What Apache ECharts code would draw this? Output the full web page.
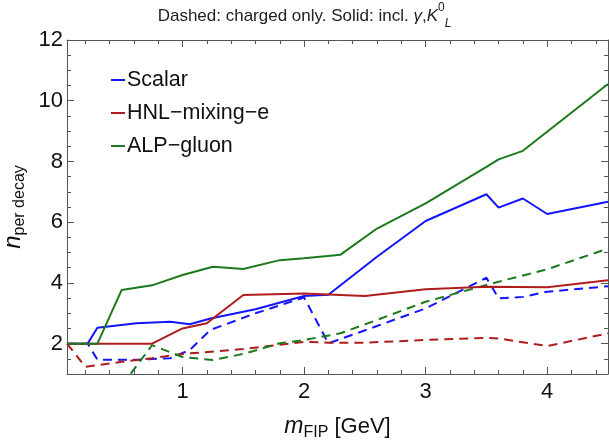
<!DOCTYPE html>
<html>
<head>
<meta charset="utf-8">
<script src="https://cdn.jsdelivr.net/npm/echarts@6/dist/echarts.min.js"></script>
<style>
  html, body { margin: 0; padding: 0; background: #fff; }
  #chart { width: 609px; height: 441px; }
</style>
</head>
<body>
<div id="chart"></div>
<script>
// [m, n] pairs
const scalarSolid = [[0.05, 2], [0.22, 2], [0.3, 2.52], [0.62, 2.67], [0.9, 2.72], [1.06, 2.64], [1.23, 2.83],
  [1.6, 3.13], [2.0, 3.57], [2.2, 3.61], [2.6, 4.86], [3.0, 6.04], [3.5, 6.92], [3.6, 6.48], [3.8, 6.78],
  [4.0, 6.27], [4.5, 6.67]];
const hnlSolid = [[0.05, 2], [0.75, 2], [1.0, 2.5], [1.2, 2.67], [1.5, 3.6], [2.0, 3.65], [2.2, 3.62],
  [2.5, 3.57], [3.0, 3.79], [3.5, 3.87], [4.0, 3.86], [4.5, 4.09]];
const alpSolid = [[0.05, 2], [0.3, 2], [0.5, 3.77], [0.75, 3.92], [1.0, 4.26], [1.25, 4.53], [1.5, 4.46],
  [1.8, 4.75], [2.0, 4.81], [2.3, 4.93], [2.6, 5.79], [3.0, 6.62], [3.5, 7.82], [3.6, 8.07], [3.8, 8.35],
  [4.5, 10.55]];
const scalarDashed = [[0.05, 2], [0.22, 2], [0.3, 1.47], [0.64, 1.47], [0.9, 1.52], [1.06, 1.79], [1.23, 2.45],
  [1.6, 3.0], [2.0, 3.52], [2.2, 2.01], [2.6, 2.58], [3.0, 3.16], [3.5, 4.17], [3.6, 3.49], [3.8, 3.54],
  [4.0, 3.71], [4.5, 3.89]];
const hnlDashed = [[0.05, 2.0], [0.2, 1.24], [0.5, 1.4], [0.75, 1.52], [1.0, 1.66], [1.5, 1.82], [2.0, 2.06],
  [2.2, 2.03], [2.5, 2.03], [3.0, 2.12], [3.5, 2.19], [3.6, 2.17], [4.0, 1.92], [4.5, 2.34]];
const alpDashed = [[0.5, 0.62], [0.75, 1.95], [1.0, 1.56], [1.25, 1.46], [1.5, 1.66], [1.8, 2.01], [2.0, 2.12],
  [2.3, 2.34], [2.6, 2.78], [3.0, 3.38], [3.5, 3.93], [3.6, 4.04], [4.0, 4.45], [4.5, 5.13]];

const xTicks = [1, 2, 3, 4];
const xMinor = [0.2, 0.4, 0.6, 0.8, 1.2, 1.4, 1.6, 1.8, 2.2, 2.4, 2.6, 2.8, 3.2, 3.4, 3.6, 3.8, 4.2, 4.4];
const yTicks = [2, 4, 6, 8, 10, 12];
const yMinor = [1.5, 2.5, 3, 3.5, 4.5, 5, 5.5, 6.5, 7, 7.5, 8.5, 9, 9.5, 10.5, 11, 11.5];

const FONT = "'Liberation Sans', Arial, sans-serif";
const FRAME = '#555';
const BLUE = '#1414ff', RED = '#b01c1c', GREEN = '#1c7a1c';

function axis(dim, pos, ticks, len, main, labels) {
  var a = {
    type: 'value',
    position: pos,
    min: dim == 'x' ? 0.05 : 1,
    max: dim == 'x' ? 4.5 : 12,
    splitLine: {show: false},
    axisLine: {show: main, onZero: false, lineStyle: {color: FRAME, width: 1}},
    axisTick: {show: true, inside: true, length: len, customValues: ticks, lineStyle: {color: FRAME, width: 1}},
    axisLabel: {show: !!labels}
  };
  if (labels) {
    a.axisLabel = {show: true, customValues: labels, fontSize: 22, fontFamily: FONT, color: '#111',
      margin: dim == 'x' ? 7 : 4};
  }
  return a;
}

const xAxes = [
  axis('x', 'bottom', xTicks, 7, true, xTicks),
  axis('x', 'bottom', xMinor, 4, false),
  axis('x', 'top', xTicks, 7, true),
  axis('x', 'top', xMinor, 4, false)
];
xAxes[0].name = '{i|m}{s|FIP}{a| [GeV]}';
xAxes[0].nameLocation = 'middle';
xAxes[0].nameGap = 39;
xAxes[0].nameTextStyle = {
  fontFamily: FONT, color: '#111',
  rich: {
    i: {fontSize: 23, fontStyle: 'italic', fontFamily: FONT, color: '#111', verticalAlign: 'middle', lineHeight: 28},
    s: {fontSize: 16, fontFamily: FONT, color: '#111', verticalAlign: 'bottom', lineHeight: 16},
    a: {fontSize: 22, fontFamily: FONT, color: '#111', verticalAlign: 'middle', lineHeight: 28}
  }
};

const yAxes = [
  axis('y', 'left', yTicks, 7, true, yTicks),
  axis('y', 'left', yMinor, 4, false),
  axis('y', 'right', yTicks, 7, true),
  axis('y', 'right', yMinor, 4, false)
];
yAxes[0].name = '{i|n}{s|per decay}';
yAxes[0].nameLocation = 'middle';
yAxes[0].nameRotate = 90;
yAxes[0].nameGap = 29;
yAxes[0].nameTextStyle = {
  fontFamily: FONT, color: '#111',
  rich: {
    i: {fontSize: 24, fontStyle: 'italic', fontFamily: FONT, color: '#111', verticalAlign: 'middle', lineHeight: 28},
    s: {fontSize: 16, fontFamily: FONT, color: '#111', verticalAlign: 'bottom', lineHeight: 16}
  }
};

function line(name, data, color, dashed) {
  return {
    name: name,
    type: 'line',
    data: data,
    symbol: 'none',
    color: color,
    lineStyle: {color: color, width: 2, type: dashed ? [9, 6] : 'solid'},
    clip: true,
    z: dashed ? 2 : 3
  };
}

const chart = echarts.init(document.getElementById('chart'), null, {renderer: 'canvas'});
chart.setOption({
  animation: false,
  backgroundColor: '#fff',
  title: {
    text: '{a|Dashed: charged only. Solid: incl. }{i|γ}{a|,}{i|K}{sup|0}{sub|L}',
    left: 'center',
    top: -3,
    textStyle: {
      fontWeight: 'normal',
      rich: {
        a: {fontSize: 17, fontFamily: FONT, fontWeight: 'normal', color: '#222', verticalAlign: 'middle', lineHeight: 28},
        i: {fontSize: 17, fontFamily: FONT, fontWeight: 'normal', fontStyle: 'italic', color: '#222', verticalAlign: 'middle', lineHeight: 28},
        sup: {fontSize: 12, fontFamily: FONT, fontWeight: 'normal', color: '#222', verticalAlign: 'top', lineHeight: 12},
        sub: {fontSize: 12, fontFamily: FONT, fontWeight: 'normal', fontStyle: 'italic', color: '#222', verticalAlign: 'bottom', lineHeight: 12}
      }
    }
  },
  legend: {
    data: ['Scalar', 'HNL−mixing−e', 'ALP−gluon'],
    orient: 'vertical',
    left: 106,
    top: 64,
    icon: 'rect',
    itemWidth: 14,
    itemHeight: 2,
    itemGap: 11,
    textStyle: {fontSize: 21.5, fontFamily: FONT, color: '#111', lineHeight: 22, padding: [0, 0, 0, -3]}
  },
  grid: {left: 67, right: 1, top: 40, bottom: 67, outerBoundsMode: 'none'},
  xAxis: xAxes,
  yAxis: yAxes,
  series: [
    line('Scalar dashed', scalarDashed, BLUE, true),
    line('HNL dashed', hnlDashed, RED, true),
    line('ALP dashed', alpDashed, GREEN, true),
    line('Scalar', scalarSolid, BLUE, false),
    line('HNL−mixing−e', hnlSolid, RED, false),
    line('ALP−gluon', alpSolid, GREEN, false)
  ]
});
</script>
</body>
</html>
